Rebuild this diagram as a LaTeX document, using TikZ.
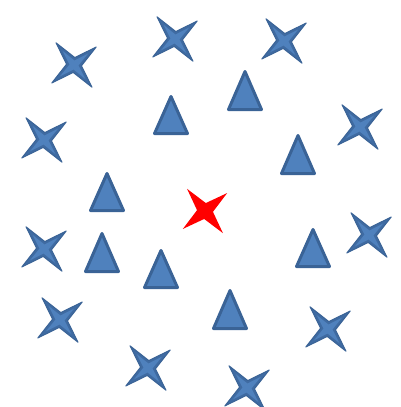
\documentclass[tikz,border=0pt]{standalone}
\definecolor{fillblue}{HTML}{4F81BD}
\definecolor{darkblue}{HTML}{3A6396}
\definecolor{midblue}{HTML}{3F6BA2}
\tikzset{
  x=1pt, y=-1pt,
  tri/.style={fill=fillblue, draw=darkblue, line width=3pt, line join=round},
  pics/bluestar/.style={code={
    \fill[midblue, draw=darkblue, line width=1pt, line join=round]
      (51:28.5) -- (6:7.5) -- (321:28.5) -- (276:7.5) -- (231:28.5) -- (186:7.5) -- (141:28.5) -- (96:7.5) -- cycle;
    \fill[fillblue]
      (51:18) -- (6:4.5) -- (321:18) -- (276:4.5) -- (231:18) -- (186:4.5) -- (141:18) -- (96:4.5) -- cycle;
  }},
  pics/redstar/.style={code={
    \fill[red]
      (51:28.5) -- (6:8) -- (321:28.5) -- (276:8) -- (231:28.5) -- (186:8) -- (141:28.5) -- (96:8) -- cycle;
  }}
}
\newcommand{\mytri}[3]{\draw[tri] (#1,#2+1.5) -- (#1+16.5,#3-1.5) -- (#1-16.5,#3-1.5) -- cycle;}
\begin{document}
\begin{tikzpicture}
\useasboundingbox (0,0) rectangle (400,407);
% triangles
\mytri{171}{95}{135}
\mytri{245}{70}{111}
\mytri{298}{134}{175}
\mytri{107}{172}{212}
\mytri{102}{232}{273}
\mytri{161}{249}{289}
\mytri{313}{228}{268}
\mytri{230}{289}{330}
% blue stars
\foreach \p in {(74,65),(175,39),(284,41),(360,127),(44,140),(369,235),(44,249),(60,320),(328,329),(148,368),(247,388)}
  \pic at \p {bluestar};
% red star
\pic at (205,211) {redstar};
\end{tikzpicture}
\end{document}
